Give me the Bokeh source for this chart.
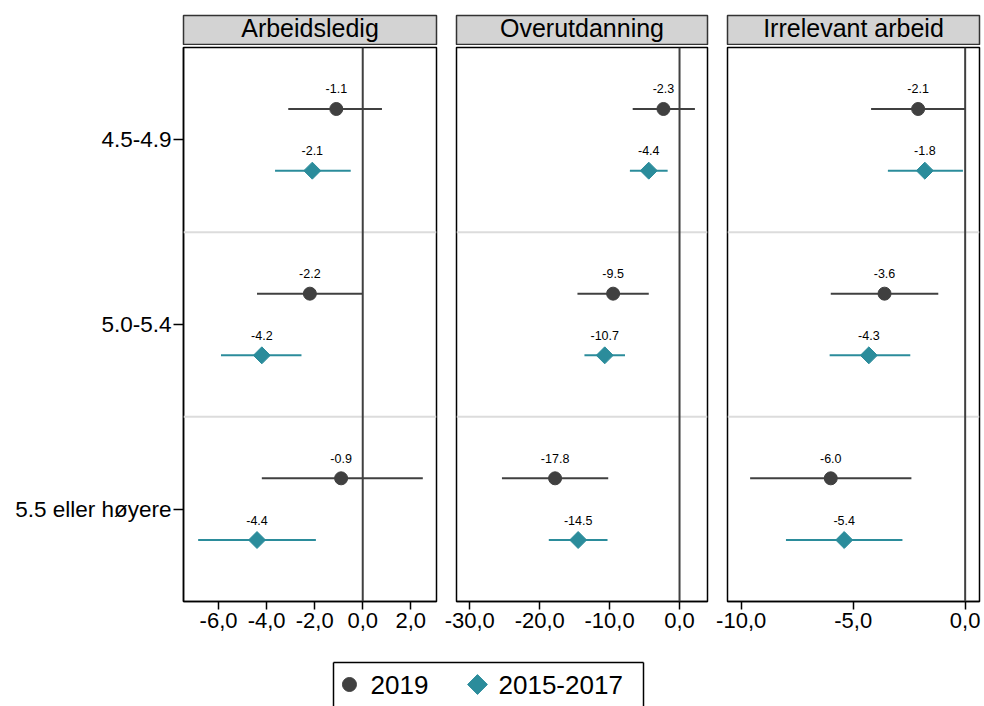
from bokeh.plotting import figure
from bokeh.models import (ColumnDataSource, FactorRange, Range1d, Span, FixedTicker,
                          CustomJSTickFormatter, CategoricalAxis)
from bokeh.transform import dodge
from bokeh.layouts import column, row
from bokeh.core.properties import value
from bokeh.embed import file_html
from bokeh.resources import INLINE

# ---------------- data ----------------
categories = ["4.5-4.9", "5.0-5.4", "5.5 eller høyere"]
panels = ["Arbeidsledig", "Overutdanning", "Irrelevant arbeid"]
series = ["2019", "2015-2017"]

arb_2019_est = [-1.1, -2.2, -0.9]
arb_2019_lo = [-3.1, -4.4, -4.2]
arb_2019_hi = [0.8, 0.0, 2.5]
arb_1517_est = [-2.1, -4.2, -4.4]
arb_1517_lo = [-3.65, -5.9, -6.85]
arb_1517_hi = [-0.5, -2.55, -1.95]

ove_2019_est = [-2.3, -9.5, -17.8]
ove_2019_lo = [-6.7, -14.6, -25.4]
ove_2019_hi = [2.2, -4.4, -10.2]
ove_1517_est = [-4.4, -10.7, -14.5]
ove_1517_lo = [-7.1, -13.6, -18.7]
ove_1517_hi = [-1.7, -7.8, -10.3]

irr_2019_est = [-2.1, -3.6, -6.0]
irr_2019_lo = [-4.2, -6.0, -9.6]
irr_2019_hi = [0.0, -1.2, -2.4]
irr_1517_est = [-1.8, -4.3, -5.4]
irr_1517_lo = [-3.45, -6.05, -8.0]
irr_1517_hi = [-0.1, -2.45, -2.8]

x_ticks_arb = [-6, -4, -2, 0, 2]
x_ticks_ove = [-30, -20, -10, 0]
x_ticks_irr = [-10, -5, 0]

# ---------------- styling ----------------
DARK = "#404040"
TEAL = "#2B8C9B"
FONT = "Liberation Sans"
series_color = {"2019": DARK, "2015-2017": TEAL}
series_offset = {"2019": 0.167, "2015-2017": -0.167}

panel_data = [
    (panels[0], (-7.46, 3.07), x_ticks_arb,
     {"2019": (arb_2019_est, arb_2019_lo, arb_2019_hi),
      "2015-2017": (arb_1517_est, arb_1517_lo, arb_1517_hi)}),
    (panels[1], (-31.9, 4.0), x_ticks_ove,
     {"2019": (ove_2019_est, ove_2019_lo, ove_2019_hi),
      "2015-2017": (ove_1517_est, ove_1517_lo, ove_1517_hi)}),
    (panels[2], (-10.61, 0.64), x_ticks_irr,
     {"2019": (irr_2019_est, irr_2019_lo, irr_2019_hi),
      "2015-2017": (irr_1517_est, irr_1517_lo, irr_1517_hi)}),
]

frame_widths = [253, 251, 252]
left_borders = [183, 18, 18]
right_borders = [2, 2, 3]

fmt = CustomJSTickFormatter(code="return tick.toFixed(1).replace('.', ',');")

headers = []
plots = []
for i, (name, xr, ticks, d) in enumerate(panel_data):
    # header strip
    h = figure(x_range=FactorRange(factors=[name]), y_range=FactorRange(factors=[name]),
               frame_width=frame_widths[i], frame_height=30,
               min_border_left=left_borders[i], min_border_right=right_borders[i],
               min_border_top=15, min_border_bottom=0,
               x_axis_location=None, y_axis_location=None,
               output_backend="svg", toolbar_location=None)
    h.background_fill_color = "#D3D3D3"
    h.outline_line_color = "#333333"
    h.outline_line_width = 1.5
    h.xgrid.visible = False
    h.ygrid.visible = False
    h.text(x=[name], y=[name], text=[name], text_align="center", text_baseline="middle",
           y_offset=-3, text_font=value(FONT), text_font_size="25px", text_color="black")
    headers.append(h)

    p = figure(x_range=Range1d(*xr), y_range=FactorRange(factors=categories[::-1]),
               frame_width=frame_widths[i], frame_height=554,
               min_border_left=left_borders[i], min_border_right=right_borders[i],
               min_border_top=2, min_border_bottom=50,
               y_axis_location="left" if i == 0 else None,
               output_backend="svg", toolbar_location=None)
    p.y_range.range_padding = 0
    p.outline_line_color = "black"
    p.outline_line_width = 1.5
    p.xgrid.visible = False
    p.ygrid.visible = False

    for b in range(1, len(categories)):
        p.add_layout(Span(location=b, dimension="width", line_color="#DCDCDC", line_width=2))
    p.add_layout(Span(location=0, dimension="height", line_color=DARK, line_width=2))

    for s in series:
        est, lo, hi = d[s]
        src = ColumnDataSource(dict(cat=categories, est=est, lo=lo, hi=hi,
                                    lab=[f"{v:.1f}" for v in est]))
        yy = dodge("cat", series_offset[s], range=p.y_range)
        p.segment(x0="lo", x1="hi", y0=yy, y1=yy, source=src,
                  line_color=series_color[s], line_width=2)
        if s == "2019":
            p.scatter(x="est", y=yy, source=src, marker="circle", size=13,
                      fill_color=DARK, line_color=DARK)
        else:
            p.scatter(x="est", y=yy, source=src, marker="square", size=12, angle=0.785398,
                      fill_color=TEAL, line_color=TEAL)
        p.text(x="est", y=yy, text="lab", source=src, text_align="center",
               text_baseline="middle", y_offset=-20, text_font=value(FONT),
               text_font_size="12.5px", text_color="black")

    xa = p.xaxis[0]
    xa.ticker = FixedTicker(ticks=ticks)
    xa.formatter = fmt
    xa.major_tick_out = 8
    xa.major_tick_in = 0
    xa.minor_tick_line_color = None
    xa.major_label_text_font = FONT
    xa.major_label_text_font_size = "22px"
    xa.major_label_text_color = "black"
    xa.major_label_standoff = 3
    xa.axis_line_color = "black"
    xa.axis_line_width = 1.5
    xa.major_tick_line_color = "black"
    xa.major_tick_line_width = 1.5
    if i == 0:
        ya = p.yaxis[0]
        ya.major_tick_out = 10
        ya.major_tick_in = 0
        ya.major_label_text_font = FONT
        ya.major_label_text_font_size = "22.5px"
        ya.major_label_text_color = "black"
        ya.major_label_standoff = 2
        ya.axis_line_color = "black"
        ya.axis_line_width = 1.5
        ya.major_tick_line_color = "black"
        ya.major_tick_line_width = 1.5
    plots.append(p)

# ---------------- legend strip ----------------
legend_row = ["legend"]
lf = figure(x_range=FactorRange(factors=series), y_range=FactorRange(factors=legend_row),
            frame_width=310, frame_height=44,
            min_border_left=333, min_border_right=337, min_border_top=11, min_border_bottom=0,
            x_axis_location="above", y_axis_location="left",
            output_backend="svg", toolbar_location=None)
lf.x_range.range_padding = 0
lf.y_range.range_padding = 0
lf.outline_line_color = None
lf.xgrid.visible = False
lf.ygrid.visible = False
lf.add_layout(CategoricalAxis(), "right")
for ax in lf.axis:
    ax.major_label_text_font_size = "0px"
    ax.major_label_text_color = None
    ax.major_tick_line_color = None
    ax.minor_tick_line_color = None
    ax.major_label_standoff = 0
    ax.axis_line_color = "black"
    ax.axis_line_width = 1.5

src_a = ColumnDataSource(dict(series=series[:1], row=legend_row))
src_b = ColumnDataSource(dict(series=series[1:], row=legend_row))
lf.scatter(x=dodge("series", -0.397, range=lf.x_range), y="row", source=src_a,
           marker="circle", size=14, fill_color=DARK, line_color=DARK)
lf.scatter(x=dodge("series", -0.571, range=lf.x_range), y="row", source=src_b,
           marker="square", size=14, angle=0.785398, fill_color=TEAL, line_color=TEAL)
lf.text(x="series", y="row", text="series", source=src_a,
        x_offset=-40.5, text_align="left", text_baseline="middle",
        text_font=value(FONT), text_font_size="26px", text_color="black")
lf.text(x="series", y="row", text="series", source=src_b,
        x_offset=-67.5, text_align="left", text_baseline="middle",
        text_font=value(FONT), text_font_size="26px", text_color="black")

layout = column(row(*headers, spacing=0), row(*plots, spacing=0), lf, spacing=0)
open("out.html", "w").write(file_html(layout, INLINE))
